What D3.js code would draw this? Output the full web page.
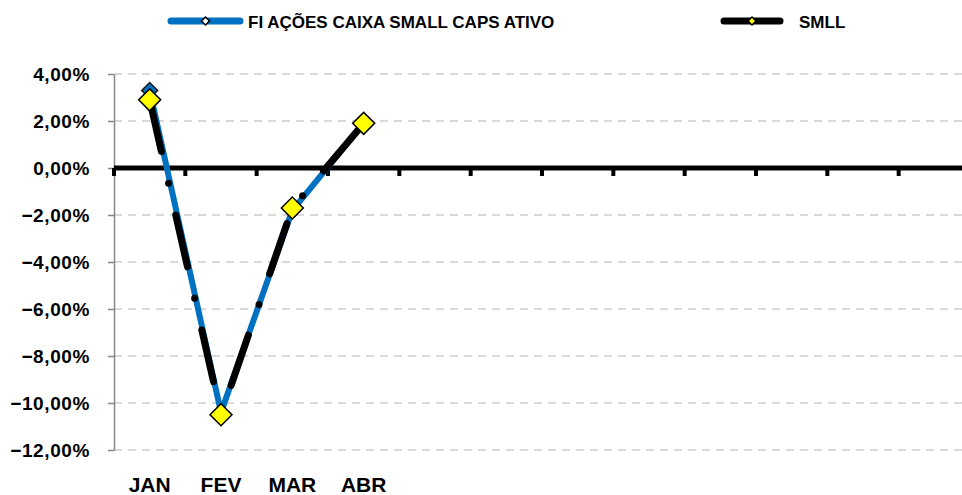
<!DOCTYPE html>
<html><head><meta charset="utf-8">
<script src="https://cdn.jsdelivr.net/npm/d3@7"></script>
<style>
html,body{margin:0;padding:0;background:#fff;}
svg{display:block;font-family:"Liberation Sans",Arial,sans-serif;font-weight:bold;}
</style></head>
<body>
<svg id="chart" width="962" height="495"></svg>
<script>
const months = ["JAN","FEV","MAR","ABR","MAI","JUN","JUL","AGO","SET","OUT","NOV","DEZ"];
const monthLabels = ["JAN","FEV","MAR","ABR","","","","","","","",""];
const seriesNames = ["FI AÇÕES CAIXA SMALL CAPS ATIVO","SMLL"];
const fundValues = [3.3, -10.4, -1.8, 1.9];
const smllValues = [2.9, -10.5, -1.7, 1.9];
const yTicks = [4,2,0,-2,-4,-6,-8,-10,-12];

const svg = d3.select("#chart");
const W = 962;
const x = d3.scaleBand().domain(months).range([114, 970]).paddingInner(0).paddingOuter(0);
const y = d3.scaleLinear().domain([-12, 4]).range([450, 74]);
const bw = x.bandwidth();
const loc = d3.formatLocale({decimal: ",", thousands: ".", grouping: [3], currency: ["R$", ""]});
const fmt = v => loc.format(".2f")(v) + "%";

// gridlines
svg.append("g").selectAll("line").data(yTicks.filter(t => t !== 0)).join("line")
  .attr("x1", x.range()[0]).attr("x2", W)
  .attr("y1", d => y(d)).attr("y2", d => y(d))
  .attr("stroke", "#d9d9d9").attr("stroke-width", 2).attr("stroke-dasharray", "8,6");

// y axis
const yAxis = svg.append("g").attr("transform", `translate(${x.range()[0]},0)`)
  .call(d3.axisLeft(y).tickValues(yTicks).tickFormat(fmt).tickSize(6).tickSizeOuter(0).tickPadding(18));
yAxis.select(".domain").attr("stroke", "#868686").attr("stroke-width", 1.5);
yAxis.selectAll(".tick line").attr("stroke", "#868686").attr("stroke-width", 1.5);
yAxis.selectAll(".tick text").attr("fill", "#000").style("font-size", "19px")
  .style("font-weight", "bold").style("font-family", "'Liberation Sans',Arial,sans-serif")
  .style("letter-spacing", "0.6px");

// zero axis
const y0 = y(0);
svg.append("line").attr("x1", x.range()[0]).attr("x2", W).attr("y1", y0).attr("y2", y0)
  .attr("stroke", "#000").attr("stroke-width", 5);
svg.append("g").selectAll("line").data(months).join("line")
  .attr("x1", d => x(d)).attr("x2", d => x(d))
  .attr("y1", y0).attr("y2", y0 + 8)
  .attr("stroke", "#000").attr("stroke-width", 4);

// category labels
svg.append("g").selectAll("text").data(months).join("text")
  .attr("x", d => x(d) + bw / 2).attr("y", 492)
  .attr("text-anchor", "middle").style("font-size", "21px")
  .text((d, i) => monthLabels[i]);

const line = d3.line().x((d, i) => x(months[i]) + bw / 2).y(d => y(d));
const diamond = (area) => d3.symbol(d3.symbolSquare, area)();

// fund series
svg.append("path").datum(fundValues).attr("d", line)
  .attr("fill", "none").attr("stroke", "#0070c0").attr("stroke-width", 6)
  .attr("stroke-linejoin", "round").attr("stroke-linecap", "round");
svg.append("g").selectAll("path").data(fundValues).join("path")
  .attr("d", diamond(128))
  .attr("transform", (d, i) => `translate(${x(months[i]) + bw / 2},${y(d)}) rotate(45)`)
  .attr("fill", "#0070c0").attr("stroke", "#1a1a1a").attr("stroke-width", 1.5);

// SMLL series
svg.append("path").datum(smllValues).attr("d", line)
  .attr("fill", "none").attr("stroke", "#000").attr("stroke-width", 7)
  .attr("stroke-linejoin", "round").attr("stroke-linecap", "round")
  .attr("stroke-dasharray", "53,32.5,0,32.5");
svg.append("g").selectAll("path").data(smllValues).join("path")
  .attr("d", diamond(242))
  .attr("transform", (d, i) => `translate(${x(months[i]) + bw / 2},${y(d)}) rotate(45)`)
  .attr("fill", "#ffff00").attr("stroke", "#000").attr("stroke-width", 1.5);

// legend
const legend = [
  {name: seriesNames[0], x1: 171, x2: 240, color: "#0070c0", mfill: "#fff", tx: 248},
  {name: seriesNames[1], x1: 724, x2: 780, color: "#000", mfill: "#ffff00", tx: 799}
];
const lg = svg.append("g").selectAll("g").data(legend).join("g");
lg.append("line").attr("x1", d => d.x1).attr("x2", d => d.x2).attr("y1", 21).attr("y2", 21)
  .attr("stroke", d => d.color).attr("stroke-width", 7).attr("stroke-linecap", "round");
lg.append("path").attr("d", diamond(32))
  .attr("transform", d => `translate(${(d.x1 + d.x2) / 2},21) rotate(45)`)
  .attr("fill", d => d.mfill).attr("stroke", "#000").attr("stroke-width", 1.5);
lg.append("text").attr("x", d => d.tx).attr("y", 27.5).style("font-size", "17px")
  .text(d => d.name);
</script>
</body></html>
